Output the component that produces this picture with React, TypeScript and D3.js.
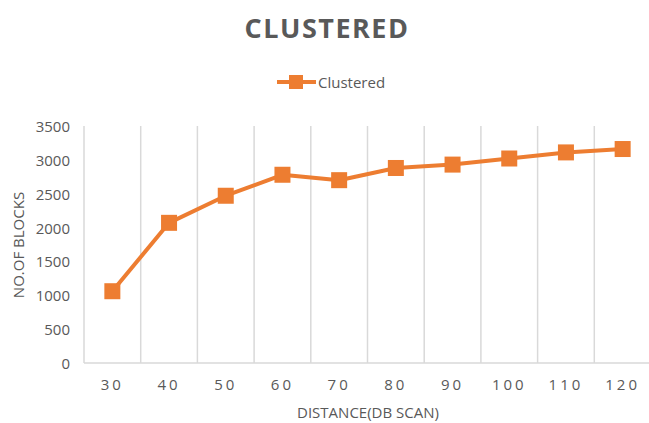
import React from "react";
import * as d3 from "d3";

const categories = ["30", "40", "50", "60", "70", "80", "90", "100", "110", "120"];
const clustered = [1060, 2070, 2470, 2780, 2700, 2880, 2930, 3020, 3110, 3160];
const yTicks = [0, 500, 1000, 1500, 2000, 2500, 3000, 3500];

const W = 649, H = 423;
const left = 84, right = 651, top = 126, bottom = 363;
const ORANGE = "#ED7D31";
const TXT = "#595959";
const FONT = "'Open Sans', sans-serif";

export default function App() {
  const x = d3.scaleBand<string>().domain(categories).range([left, right]);
  const y = d3.scaleLinear().domain([0, 3500]).range([bottom, top]);
  const line = d3.line<number>()
    .x((_, i) => (x(categories[i]) as number) + x.bandwidth() / 2)
    .y((d) => y(d));
  const bounds = categories.map((c) => x(c) as number).concat([right]);
  return (
    <svg width={W} height={H} style={{ position: "absolute", left: 0, top: 0 }} fontFamily={FONT}>
      <rect width={W} height={H} fill="#fff" />
      <text x={327} y={38} textAnchor="middle" fontSize={27} fontWeight="bold" fill={TXT} letterSpacing={1.5}>CLUSTERED</text>
      <line x1={277} x2={316} y1={82} y2={82} stroke={ORANGE} strokeWidth={4} />
      <rect x={289} y={75} width={14} height={14} fill={ORANGE} />
      <text x={318} y={88} fontSize={15} fill={TXT}>Clustered</text>
      {bounds.map((b, i) => (
        <line key={i} x1={b} x2={b} y1={top} y2={bottom} stroke="#D9D9D9" strokeWidth={1.5} />
      ))}
      <line x1={left} x2={right} y1={bottom} y2={bottom} stroke="#D9D9D9" strokeWidth={1.5} />
      {yTicks.map((t) => (
        <text key={t} x={70} y={y(t) + 6} textAnchor="end" fontSize={15} fill={TXT}>{t}</text>
      ))}
      {categories.map((c) => (
        <text key={c} x={(x(c) as number) + x.bandwidth() / 2} y={390} textAnchor="middle" fontSize={15} fill={TXT} letterSpacing={3}>{c}</text>
      ))}
      <text x={368} y={418} textAnchor="middle" fontSize={15} fill={TXT}>DISTANCE(DB SCAN)</text>
      <text transform={`translate(24,245) rotate(-90)`} textAnchor="middle" fontSize={15} fill={TXT}>NO.OF BLOCKS</text>
      <path d={line(clustered) ?? ""} fill="none" stroke={ORANGE} strokeWidth={4} strokeLinejoin="round" />
      {clustered.map((v, i) => (
        <rect key={i} x={(x(categories[i]) as number) + x.bandwidth() / 2 - 8} y={y(v) - 8} width={16} height={16} fill={ORANGE} />
      ))}
    </svg>
  );
}
